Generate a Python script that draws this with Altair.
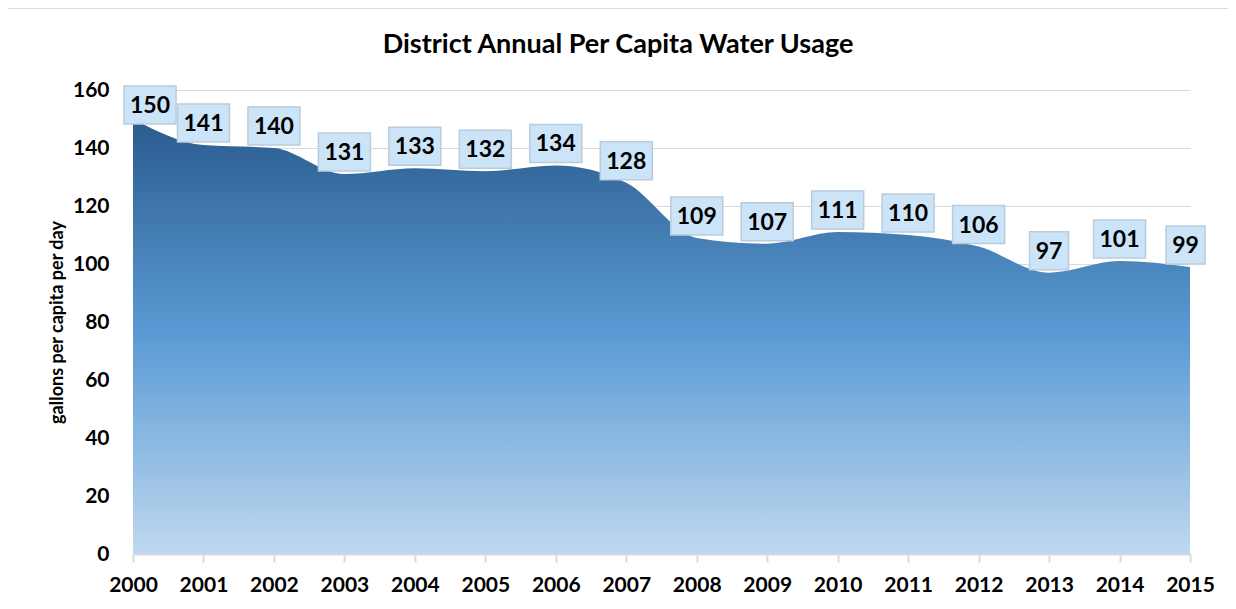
import altair as alt
import pandas as pd

years = list(range(2000, 2016))
usage = [150, 141, 140, 131, 133, 132, 134, 128, 109, 107, 111, 110, 106, 97, 101, 99]
title_text = "District Annual Per Capita Water Usage"
y_title = "gallons per capita per day"

W, H = 1057, 464
YMAX = 160
px_year = W / 15
px_unit = H / YMAX
FONT = "Lato"

df = pd.DataFrame({"year": years, "usage": usage})
df["label"] = df["usage"].astype(str)
df["bw"] = df["label"].str.len().map({2: 39, 3: 52})
# clamp label boxes inside the chart region (like the spreadsheet does)
left_lim, right_lim, top_lim = -9, 1072, -4
cx = (df["year"] - 2000) * px_year
cx = cx.clip(lower=left_lim + df["bw"] / 2, upper=right_lim - df["bw"] / 2)
df["xl"] = 2000 + cx / px_year
cy = H - df["usage"] * px_unit - 22
cy = cy.clip(lower=top_lim + 19)
df["yl"] = (H - cy) / px_unit

xs = alt.Scale(domain=[2000, 2015], nice=False, zero=False)
ys = alt.Scale(domain=[0, YMAX], nice=False)

base = alt.Chart(df)

area = base.mark_area(
    interpolate="monotone",
    line=False,
    color=alt.Gradient(
        gradient="linear",
        x1=0, x2=0, y1=0, y2=1,
        stops=[
            alt.GradientStop(color="#2a5b8e", offset=0),
            alt.GradientStop(color="#5b9bd5", offset=0.5),
            alt.GradientStop(color="#bfd8ef", offset=1),
        ],
    ),
).encode(
    x=alt.X("year:Q", scale=xs,
            axis=alt.Axis(values=years, format="d", title=None, grid=False,
                          labelFont=FONT, labelFontSize=21, labelFontWeight="bold",
                          labelColor="#000000", labelPadding=12,
                          labelFlush=False, labelOverlap=False, labelBound=False,
                          domainColor="#d9d9d9", domainWidth=2,
                          tickColor="#d9d9d9", tickWidth=2, tickSize=8)),
    y=alt.Y("usage:Q", scale=ys,
            axis=alt.Axis(values=list(range(0, 161, 20)), title=y_title,
                          grid=True, gridColor="#d9d9d9", gridWidth=1.2,
                          domain=False, ticks=False,
                          labelFont=FONT, labelFontSize=21, labelFontWeight="bold",
                          labelColor="#000000", labelPadding=24,
                          titleFont=FONT, titleFontSize=18, titleFontWeight="bold",
                          titleColor="#000000", titleX=-76, titleY=H / 2,
                          titleAngle=270, titleAlign="center", titleBaseline="middle")),
)

boxes3 = base.transform_filter("datum.bw == 52").mark_rect(
    width=52, height=38, fill="#cce4f8", stroke="#b9cbdc", strokeWidth=1.5
).encode(x=alt.X("xl:Q", scale=xs), y=alt.Y("yl:Q", scale=ys))

boxes2 = base.transform_filter("datum.bw == 39").mark_rect(
    width=39, height=38, fill="#cce4f8", stroke="#b9cbdc", strokeWidth=1.5
).encode(x=alt.X("xl:Q", scale=xs), y=alt.Y("yl:Q", scale=ys))

labels = base.mark_text(
    font=FONT, fontSize=23, fontWeight="bold", color="#000000",
    baseline="middle", align="center", dy=1,
).encode(x=alt.X("xl:Q", scale=xs), y=alt.Y("yl:Q", scale=ys), text="label:N")

title = alt.Chart(pd.DataFrame({"t": [title_text]})).mark_text(
    font=FONT, fontSize=27, fontWeight="bold", color="#000000",
    align="center", baseline="middle",
).encode(x=alt.value(485), y=alt.value(-45), text="t:N")

border_left = alt.Chart(pd.DataFrame({"a": [0]})).mark_rule(
    color="#d9d9d9", strokeWidth=2
).encode(x=alt.value(-126), y=alt.value(-82), y2=alt.value(520))
border_top = alt.Chart(pd.DataFrame({"a": [0]})).mark_rule(
    color="#d9d9d9", strokeWidth=2
).encode(x=alt.value(-126), x2=alt.value(1100), y=alt.value(-82))

chart = alt.layer(area, boxes3, boxes2, labels, title, border_left, border_top).properties(
    width=W, height=H,
    autosize=alt.AutoSizeParams(type="none"),
    padding={"left": 125, "top": 82, "right": 38, "bottom": 47},
).configure(background="#ffffff").configure_view(stroke=None)

chart.save("out.html", embed_options={"renderer": "svg", "actions": False})
